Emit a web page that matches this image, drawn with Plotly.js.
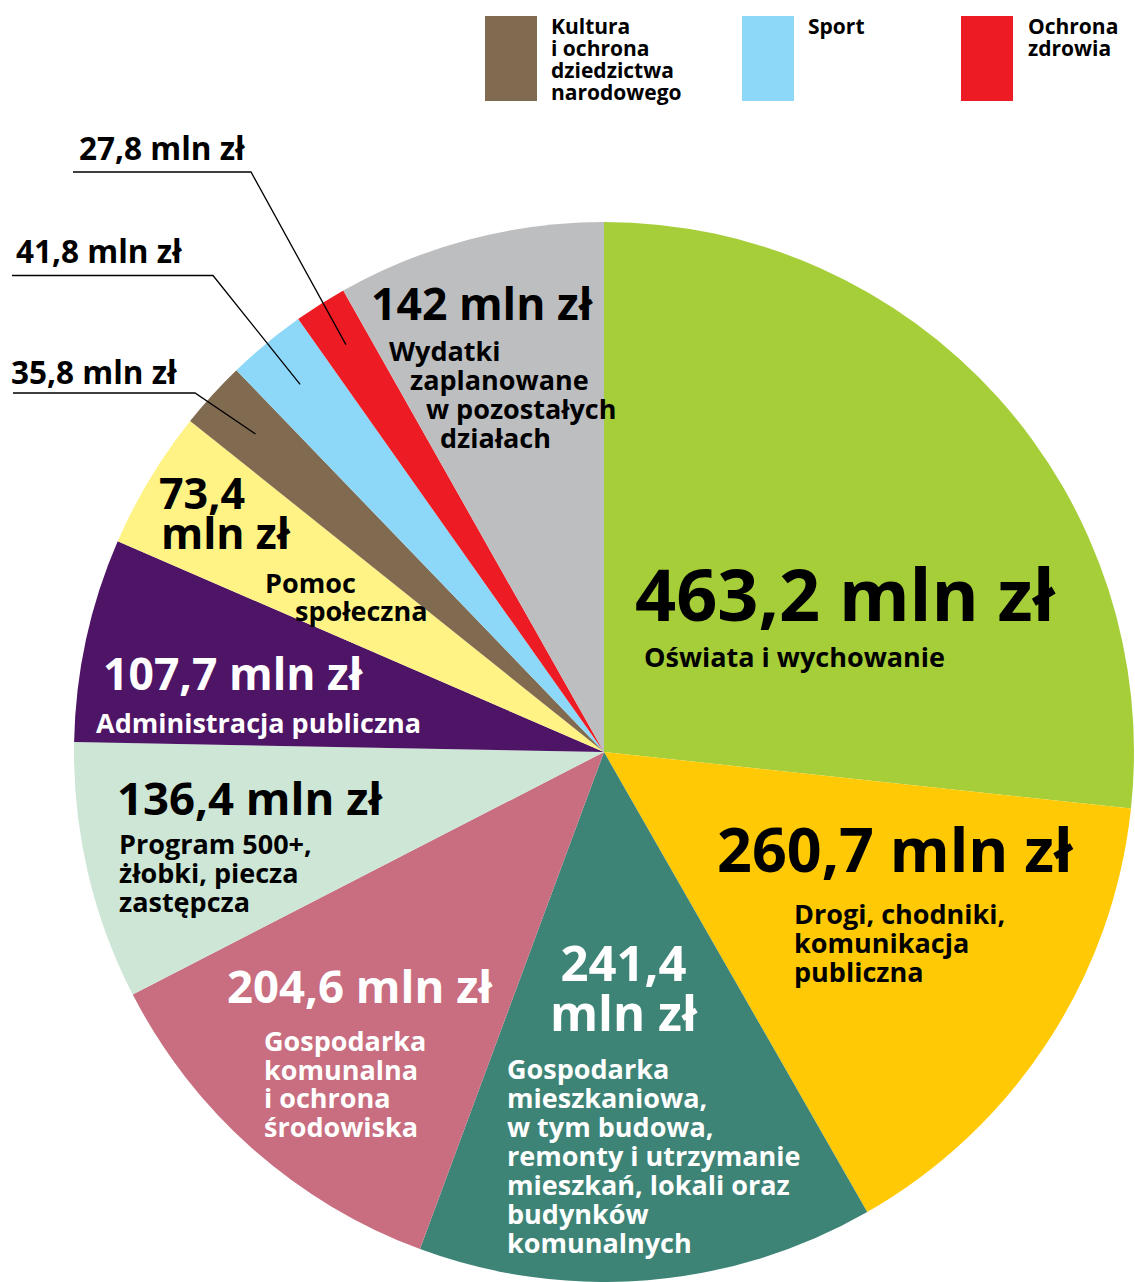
<!DOCTYPE html>
<html>
<head>
<meta charset="utf-8">
<script src="https://cdn.plot.ly/plotly-3.0.1.min.js"></script>
<style>
html,body{margin:0;padding:0;background:#fff;}
#chart{width:1135px;height:1282px;}
</style>
</head>
<body>
<div id="chart"></div>
<script>
// ---- data ----
const categories = [
  "Oświata i wychowanie",
  "Drogi, chodniki, komunikacja publiczna",
  "Gospodarka mieszkaniowa, w tym budowa, remonty i utrzymanie mieszkań, lokali oraz budynków komunalnych",
  "Gospodarka komunalna i ochrona środowiska",
  "Program 500+, żłobki, piecza zastępcza",
  "Administracja publiczna",
  "Pomoc społeczna",
  "Kultura i ochrona dziedzictwa narodowego",
  "Sport",
  "Ochrona zdrowia",
  "Wydatki zaplanowane w pozostałych działach"
];
const values = [463.2, 260.7, 241.4, 204.6, 136.4, 107.7, 73.4, 35.8, 41.8, 27.8, 142];
const colors = ["#A6CE39", "#FFCA05", "#3D8476", "#C86E80", "#CDE6D6", "#4E1466", "#FFF385", "#806A50", "#8DD8F8", "#ED1C24", "#BDBEC0"];
const unit = "mln zł";
const legendLines = [
  ["Kultura", "i ochrona", "dziedzictwa", "narodowego"],
  ["Sport"],
  ["Ochrona", "zdrowia"]
];

// ---- geometry helpers (page pixels -> paper) ----
const W = 1135, H = 1282;
const CX = 604, CY = 752, R = 530;
const px = x => x / W;
const py = y => 1 - y / H;
const fmt = v => String(v).replace('.', ',');
const FONT = "Open Sans, Noto Sans, sans-serif";
const ASC = 0.77; // distance (em) from block top to first line centre

const annotations = [];
const blockMeta = [];
function txt(text, x, y, size, color) {
  annotations.push({
    text: text, xref: 'paper', yref: 'paper', x: px(x), y: py(y),
    xanchor: 'left', yanchor: 'middle', showarrow: false, borderpad: 0,
    font: {family: FONT, size: size, color: color, weight: 700}
  });
}
// multi-line block: yFirst = centre of first line, step = px between lines
function block(arr, x, yFirst, step, size, color, opts) {
  opts = opts || {};
  blockMeta[annotations.length] = {em: step / size, indents: opts.indents};
  annotations.push({
    text: arr.join('<br>'), xref: 'paper', yref: 'paper',
    x: px(x), y: py(yFirst - ASC * size),
    xanchor: opts.center ? 'center' : 'left', yanchor: 'top',
    align: opts.center ? 'center' : 'left',
    showarrow: false, borderpad: 0,
    font: {family: FONT, size: size, color: color, weight: 700}
  });
}

// value labels & category names
txt(fmt(values[0]) + " " + unit, 634, 593, 72, '#000');
txt("Oświata i wychowanie", 643, 657, 27, '#000');

txt(fmt(values[1]) + " " + unit, 716, 848, 61, '#000');
block(["Drogi, chodniki,", "komunikacja", "publiczna"], 793, 915, 29, 27, '#000');

block([fmt(values[2]), unit], 624, 966, 50, 49, '#fff', {center: true});
block(["Gospodarka", "mieszkaniowa,", "w tym budowa,", "remonty i utrzymanie", "mieszkań, lokali oraz", "budynków", "komunalnych"], 506, 1070, 29, 27, '#fff');

txt(fmt(values[3]) + " " + unit, 226, 985, 45.5, '#fff');
block(["Gospodarka", "komunalna", "i ochrona", "środowiska"], 263, 1042, 28.7, 27, '#fff');

txt(fmt(values[4]) + " " + unit, 116, 797, 45.5, '#000');
block(["Program 500+,", "żłobki, piecza", "zastępcza"], 118, 845, 29, 27, '#000');

txt(fmt(values[5]) + " " + unit, 102, 672, 44.5, '#fff');
txt("Administracja publiczna", 95, 722, 27, '#fff');

block([fmt(values[6]), unit], 158, 495, 40, 43, '#000', {indents: [0, 2]});
block(["Pomoc", "społeczna"], 264, 584, 28, 27, '#000', {indents: [0, 30]});

txt(fmt(values[10]) + " " + unit, 370, 302, 44.5, '#000');
block(["Wydatki", "zaplanowane", "w pozostałych", "działach"], 388, 352, 29, 27, '#000', {indents: [0, 21, 37, 51]});

// callout labels for the small slices
txt(fmt(values[9]) + " " + unit, 78, 147, 31.5, '#000');
txt(fmt(values[8]) + " " + unit, 15, 251, 31.5, '#000');
txt(fmt(values[7]) + " " + unit, 10, 371, 31.5, '#000');

// legend texts
block(legendLines[0], 550, 27, 22, 21, '#000');
block(legendLines[1], 807, 27, 22, 21, '#000');
block(legendLines[2], 1027, 27, 22, 21, '#000');

// ---- shapes: legend swatches & leader lines ----
const shapes = [];
function rect(x0, y0, x1, y1, c) {
  shapes.push({type: 'rect', xref: 'paper', yref: 'paper', x0: px(x0), x1: px(x1), y0: py(y1), y1: py(y0),
    fillcolor: c, line: {width: 0}});
}
rect(485, 16, 537, 101, colors[7]);
rect(742, 16, 794, 101, colors[8]);
rect(961, 16, 1013, 101, colors[9]);

const total = values.reduce((a, b) => a + b, 0);
function midPoint(i, frac) {
  let cum = 0;
  for (let k = 0; k < i; k++) cum += values[k];
  const a = (cum + values[i] / 2) / total * 2 * Math.PI;
  return [CX + frac * R * Math.sin(a), CY - frac * R * Math.cos(a)];
}
function leader(i, xl, xr, y, frac) {
  const [ex, ey] = midPoint(i, frac);
  shapes.push({type: 'path', xref: 'paper', yref: 'paper',
    path: `M ${px(xl)} ${py(y)} L ${px(xr)} ${py(y)} L ${px(ex)} ${py(ey)}`,
    line: {color: '#000', width: 1.3}});
}
leader(9, 73, 251, 172, 0.91);
leader(8, 12, 213, 275.5, 0.9);
leader(7, 13, 195, 393, 0.89);

const data = [{
  type: 'pie',
  labels: categories,
  values: values,
  marker: {colors: colors, line: {width: 0}},
  sort: false,
  direction: 'clockwise',
  rotation: 0,
  textinfo: 'none',
  hoverinfo: 'label+value',
  showlegend: false,
  domain: {x: [px(CX - R), px(CX + R)], y: [py(CY + R), py(CY - R)]}
}];

const layout = {
  width: W, height: H,
  margin: {l: 0, r: 0, t: 0, b: 0},
  paper_bgcolor: '#fff',
  showlegend: false,
  annotations: annotations,
  shapes: shapes,
  font: {family: FONT}
};

function tightenLines(gd) {
  gd.querySelectorAll('g.annotation').forEach(g => {
    const idx = +g.getAttribute('data-index');
    const m = blockMeta[idx];
    if (!m) return;
    g.querySelectorAll('text.annotation-text tspan.line').forEach((t, i) => {
      t.setAttribute('dy', (i * m.em) + 'em');
      if (m.indents) t.setAttribute('dx', m.indents[i] || 0);
    });
  });
}

Plotly.newPlot('chart', data, layout, {displayModeBar: false, staticPlot: true}).then(tightenLines);
</script>
</body>
</html>
